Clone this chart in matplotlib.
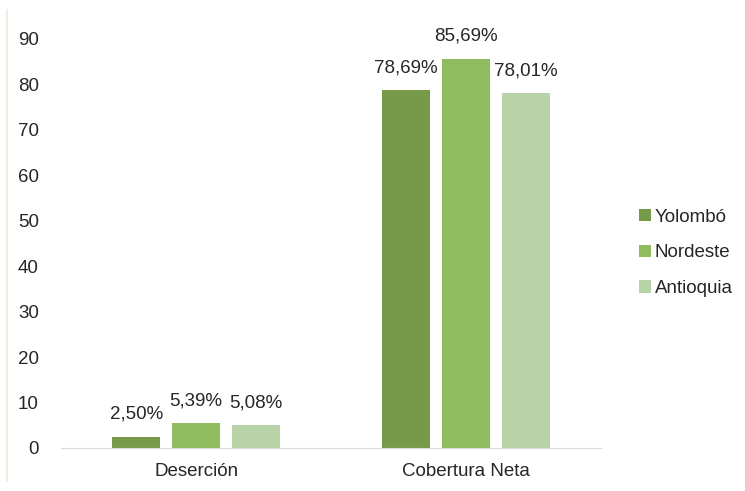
import numpy as np
import matplotlib.pyplot as plt
from matplotlib.lines import Line2D

plt.rcParams['font.family'] = ['Liberation Sans', 'DejaVu Sans']

categories = ['Deserción', 'Cobertura Neta']
series = ['Yolombó', 'Nordeste', 'Antioquia']
values = {
    'Yolombó': [2.50, 78.69],
    'Nordeste': [5.39, 85.69],
    'Antioquia': [5.08, 78.01],
}
labels = {
    'Yolombó': ['2,50%', '78,69%'],
    'Nordeste': ['5,39%', '85,69%'],
    'Antioquia': ['5,08%', '78,01%'],
}
colors = ['#77994a', '#8fbc5f', '#b8d3a8']

fig = plt.figure(figsize=(7.45, 4.91), dpi=100)
ax = fig.add_axes([0.082, 0.0876, 0.725, 0.833])

x = np.arange(len(categories))
w = 0.178
step = 0.222
for i, s in enumerate(series):
    xs = x + (i - 1) * step
    ax.bar(xs, values[s], width=w, color=colors[i], label=s)
    for xi, v, t in zip(xs, values[s], labels[s]):
        ax.text(xi, v + 3.0, t, ha='center', va='bottom', fontsize=13.5, color='#262626')

ax.set_xlim(-0.5, 1.5)
ax.set_ylim(0, 90)
ax.set_yticks(range(0, 91, 10))
ax.set_xticks(x)
ax.set_xticklabels(categories)
ax.tick_params(axis='both', length=0, labelsize=13.5, labelcolor='#262626')
ax.tick_params(axis='y', pad=16)
ax.tick_params(axis='x', pad=11)
for sp in ['top', 'right', 'left']:
    ax.spines[sp].set_visible(False)
ax.spines['bottom'].set_color('#d9d9d9')

leg = fig.legend(loc='center left', bbox_to_anchor=(0.835, 0.485), frameon=False,
                 fontsize=13.5, handlelength=0.65, handleheight=0.65, handletextpad=0.2,
                 labelspacing=1.0)
for t in leg.get_texts():
    t.set_color('#262626')

fig.add_artist(Line2D([0.0094, 0.0094], [0.02, 0.98], transform=fig.transFigure,
                      color='#eeede0', lw=1.5))

fig.savefig('out.png', dpi=100)
